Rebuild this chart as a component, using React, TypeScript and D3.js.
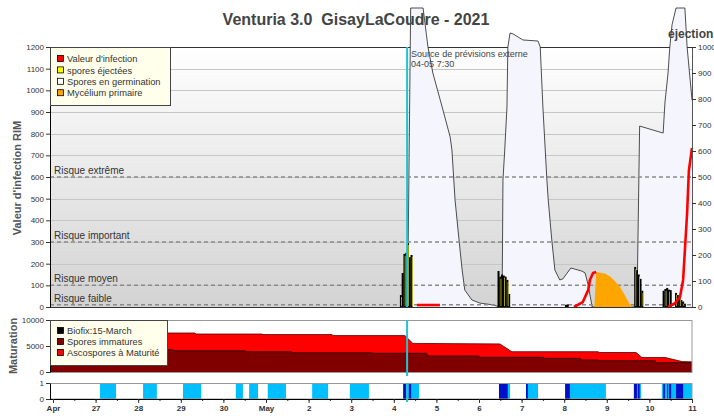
import React, { useEffect, useRef } from "react";
import * as d3 from "d3";

const chartTitle = "Venturia 3.0  GisayLaCoudre - 2021";
const dayLabels = ["Apr", "27", "28", "29", "30", "May", "2", "3", "4", "5", "6", "7", "8", "9", "10", "11"];

const riskLabels = ["Risque extrême", "Risque important", "Risque moyen", "Risque faible"];
const riskValues = [600, 300, 100, 10];

// spores en germination (right axis, éjection)
const germTimes = [
  "05-04 07:45", "05-04 09:30", "05-04 16:30", "05-04 19:15", "05-04 22:00", "05-05 03:15", "05-05 07:45", "05-05 08:45",
  "05-05 10:30", "05-05 12:45", "05-05 14:30", "05-05 16:00", "05-05 20:00", "05-06 00:30", "05-06 08:00", "05-06 11:45",
  "05-06 13:00", "05-06 13:30", "05-06 14:30", "05-06 15:45", "05-06 16:15", "05-06 17:30", "05-06 19:15", "05-07 00:45",
  "05-07 09:15", "05-07 10:30", "05-07 12:00", "05-07 14:15", "05-07 15:00", "05-07 17:00", "05-07 18:45", "05-07 21:30",
  "05-07 23:15", "05-08 03:45", "05-08 10:00", "05-08 11:45", "05-08 13:30", "05-08 15:45",
  "05-09 17:00", "05-09 18:30", "05-10 07:45", "05-10 08:45", "05-10 10:30", "05-10 11:30", "05-10 12:45", "05-10 15:00",
  "05-10 20:00", "05-10 21:15", "05-11 00:00",
];
const germValues = [
  0, 1150, 1150, 1000, 900, 769, 654, 604, 412, 258, 142, 65, 27, 15, 8, 0,
  0, 488, 604, 769, 1000, 1054, 1050, 1027, 1023, 1000, 769, 488, 412, 258, 142, 104, 108, 150, 138, 131, 85, 0,
  0, 696, 669, 785, 900, 1000, 1085, 1150, 1150, 1000, 796,
];

// valeur d'infection (left axis), one list per segment
const infectionTimes = [
  ["05-04 13:00", "05-05 02:00"],
  ["05-08 05:30", "05-08 10:30", "05-08 13:30", "05-08 14:30", "05-08 16:15", "05-08 18:00"],
  ["05-10 10:30", "05-10 14:30", "05-10 17:15", "05-10 19:00", "05-10 20:00", "05-10 21:15", "05-10 22:15", "05-11 00:00"],
];
const infectionValues = [
  [9, 9],
  [0, 23, 78, 125, 157, 162],
  [0, 18, 46, 125, 263, 434, 630, 734],
];

// mycélium primaire
const myceliumTimes = ["05-08 17:00", "05-08 18:00", "05-08 23:00", "05-09 02:00", "05-09 04:30", "05-09 07:30", "05-09 10:30", "05-09 12:30", "05-09 14:30"];
const myceliumValues = [0, 162, 155, 140, 120, 92, 50, 18, 0];

// spores éjectées, hourly values starting at each time
const ejectStarts = ["05-04 04:00", "05-06 11:00", "05-08 01:00", "05-09 16:00", "05-10 08:00"];
const ejectValues = [
  [55, 157, 245, 250, 295, 230, 240],
  [166, 140, 150, 145, 140, 125, 60],
  [10, 12],
  [185, 170, 150, 130, 75],
  [75, 83, 88, 80, 78, 0, 0, 65, 55, 42, 32, 25, 15],
];

// maturation
const totalTimes = ["04-25 22:00", "04-29 08:00", "04-29 08:30", "04-30 21:45", "04-30 22:15", "05-02 13:15", "05-02 13:45", "05-04 06:15", "05-04 10:45", "05-06 11:45", "05-06 18:30", "05-08 19:00", "05-08 20:00", "05-09 16:30", "05-09 19:45", "05-10 08:45", "05-10 18:30", "05-11 00:00"];
const totalValues = [7500, 7500, 7300, 7300, 7200, 7200, 7000, 7000, 5500, 5400, 3900, 3900, 3750, 3750, 2800, 2800, 2000, 1950];
const immatureTimes = ["04-25 22:00", "04-28 16:15", "04-28 21:15", "04-30 12:15", "04-30 12:45", "05-01 14:30", "05-01 15:00", "05-03 11:15", "05-03 11:45", "05-04 18:30", "05-04 19:15", "05-05 23:30", "05-06 00:30", "05-07 12:00", "05-07 13:00", "05-08 09:00", "05-08 10:00", "05-08 19:00", "05-08 19:30", "05-10 03:15", "05-10 04:00", "05-11 00:00"];
const immatureValues = [4400, 4400, 4100, 4100, 3900, 3900, 3700, 3700, 3600, 3600, 3080, 3080, 2830, 2830, 2630, 2630, 2310, 2310, 2170, 2170, 1800, 1800];

// humectation strip
const wetLight = [
  ["04-27 02:30", "04-27 11:30"], ["04-28 02:45", "04-28 10:30"], ["04-29 01:15", "04-29 11:30"], ["04-30 07:00", "04-30 11:00"],
  ["04-30 14:30", "04-30 19:30"], ["05-01 01:00", "05-01 11:15"], ["05-02 02:00", "05-02 11:00"], ["05-02 23:15", "05-03 10:00"],
  ["05-04 07:00", "05-04 14:15"], ["05-06 16:15", "05-06 17:30"], ["05-07 02:30", "05-07 09:15"], ["05-08 03:15", "05-08 23:30"],
  ["05-09 17:00", "05-09 19:15"], ["05-10 07:00", "05-11 00:00"],
];
const wetDark = [
  ["05-04 05:15", "05-04 07:00"], ["05-04 08:30", "05-04 09:45"], ["05-06 11:15", "05-06 16:15"], ["05-07 02:30", "05-07 03:30"],
  ["05-08 00:30", "05-08 03:15"], ["05-09 15:15", "05-09 17:00"], ["05-09 17:30", "05-09 18:30"], ["05-10 07:45", "05-10 08:45"],
  ["05-10 10:00", "05-10 10:30"], ["05-10 11:00", "05-10 12:15"], ["05-10 15:00", "05-10 19:00"],
];

const forecastTime = "05-04 07:30";

const legendLabels = ["Valeur d'infection", "spores éjectées", "Spores en germination", "Mycélium primaire"];
const legendColors = ["#ff0000", "#ffff00", "#ffffff", "#ffa500"];
const matLegendLabels = ["Biofix:15-March", "Spores immatures", "Ascospores à Maturité"];
const matLegendColors = ["#000000", "#800000", "#ff0000"];

const parseTime = d3.timeParse("%Y-%m-%d %H:%M");
const t = (s: string) => parseTime("2021-" + s) as Date;

const font = "'Liberation Sans', Arial, sans-serif";

export default function App() {
  const ref = useRef<SVGSVGElement>(null);

  useEffect(() => {
    const svg = d3.select(ref.current);
    svg.selectAll("*").remove();
    svg.attr("font-family", font);

    const left = 50, right = 692;
    const x = d3.scaleTime().domain([t("04-26 00:00"), t("05-11 00:00")]).range([53, 692]);
    const yL = d3.scaleLinear().domain([0, 1200]).range([307, 47]);
    const yR = d3.scaleLinear().domain([0, 1000]).range([307, 47]);
    const yM = d3.scaleLinear().domain([0, 10000]).range([372, 320]);
    const yS = d3.scaleLinear().domain([0, 1]).range([399, 383]);
    const fmt = d3.format("d");

    const defs = svg.append("defs");
    const grad = defs.append("linearGradient").attr("id", "bg").attr("x1", 0).attr("y1", 0).attr("x2", 0).attr("y2", 1);
    grad.append("stop").attr("offset", "0%").attr("stop-color", "#ffffff");
    grad.append("stop").attr("offset", "100%").attr("stop-color", "#d3d3d3");
    defs.append("clipPath").attr("id", "clipX").append("rect")
      .attr("x", left).attr("y", 0).attr("width", right - left).attr("height", 419);

    const styleAxis = (g: any, size = 8, bold = false) => {
      g.attr("font-family", font).attr("font-size", size);
      g.selectAll("text").attr("fill", "#333").attr("font-weight", bold ? "bold" : "normal");
      g.selectAll(".tick line").attr("stroke", "#333");
      g.select(".domain").attr("stroke", "#000");
    };

    // ---------- main panel ----------
    svg.append("rect").attr("x", left).attr("y", 47).attr("width", right - left).attr("height", 260).attr("fill", "url(#bg)");

    svg.append("g").selectAll("line").data(d3.range(100, 1200, 100)).join("line")
      .attr("x1", left).attr("x2", right)
      .attr("y1", (d) => Math.round(yL(d)) + 0.5).attr("y2", (d) => Math.round(yL(d)) + 0.5)
      .attr("stroke", "#c6c6c6");

    svg.append("line").attr("x1", left).attr("x2", right).attr("y1", 47.5).attr("y2", 47.5).attr("stroke", "#333");

    const germ = germTimes.map((s, i) => ({ t: t(s), v: germValues[i] }));
    svg.append("path").datum(germ)
      .attr("d", d3.area<any>().x((d) => x(d.t)).y0(yR(0)).y1((d) => yR(d.v)))
      .attr("fill", "#f5f6fd");
    svg.append("path").datum(germ)
      .attr("d", d3.line<any>().x((d) => x(d.t)).y((d) => yR(d.v)))
      .attr("fill", "none").attr("stroke", "#222").attr("stroke-width", 0.8);

    const risk = svg.append("g");
    riskValues.forEach((v, i) => {
      risk.append("line").attr("x1", left).attr("x2", right).attr("y1", yL(v)).attr("y2", yL(v))
        .attr("stroke", "#8a8a8a").attr("stroke-width", 1.5).attr("stroke-dasharray", "4,3");
      risk.append("text").attr("x", 54).attr("y", yL(v) - 3).attr("font-size", 10).attr("fill", "#333").text(riskLabels[i]);
    });

    const myc = myceliumTimes.map((s, i) => ({ t: t(s), v: myceliumValues[i] }));
    svg.append("path").datum(myc)
      .attr("d", d3.area<any>().x((d) => x(d.t)).y0(yL(0)).y1((d) => yL(d.v)))
      .attr("fill", "#ffa500");

    // ejected spores: dark bars with a thin yellow core
    const bars = ejectStarts.flatMap((s, g) => ejectValues[g].map((v, i) => ({ t: d3.timeHour.offset(t(s), i), v })));
    const barG = svg.append("g");
    barG.selectAll("rect.b").data(bars.filter((d) => d.v > 0)).join("rect").attr("class", "b")
      .attr("x", (d) => x(d.t) - 1).attr("y", (d) => yL(d.v))
      .attr("width", 2).attr("height", (d) => yL(0) - yL(d.v))
      .attr("fill", "#000");
    barG.selectAll("rect.y").data(bars.filter((d, i) => d.v > 0 && i % 2 === 0)).join("rect").attr("class", "y")
      .attr("x", (d) => x(d.t) + 0.3).attr("y", (d) => yL(d.v) + 2)
      .attr("width", 0.7).attr("height", (d) => Math.max(0, yL(0) - yL(d.v) - 3))
      .attr("fill", "#e6e000");

    const redLine = d3.line<any>().x((d) => x(d.t)).y((d) => yL(d.v));
    infectionTimes.forEach((seg, k) => {
      const pts = seg.map((s, i) => ({ t: t(s), v: infectionValues[k][i] }));
      svg.append("path").datum(pts).attr("d", redLine)
        .attr("fill", "none").attr("stroke", "#ff0000").attr("stroke-width", 2.6).attr("stroke-linejoin", "round");
    });

    const fx = x(t(forecastTime));
    svg.append("line").attr("x1", fx).attr("x2", fx).attr("y1", 47).attr("y2", 307).attr("stroke", "#1cc6d2").attr("stroke-width", 2);
    svg.append("text").attr("x", fx + 4).attr("y", 57).attr("font-size", 9).attr("fill", "#444").text("Source de prévisions externe");
    svg.append("text").attr("x", fx + 4).attr("y", 67).attr("font-size", 9).attr("fill", "#444").text("04-05 7:30");

    svg.append("line").attr("x1", left).attr("x2", right).attr("y1", 307.5).attr("y2", 307.5).attr("stroke", "#333");

    const axL = svg.append("g").attr("transform", `translate(${left},0)`)
      .call(d3.axisLeft(yL).tickValues(d3.range(0, 1201, 100)).tickFormat(fmt).tickSize(4).tickSizeOuter(0).tickPadding(2));
    styleAxis(axL);
    const axR = svg.append("g").attr("transform", `translate(${right},0)`)
      .call(d3.axisRight(yR).tickValues(d3.range(0, 1001, 100)).tickFormat(fmt).tickSize(4).tickSizeOuter(0).tickPadding(2));
    styleAxis(axR);
    axR.select(".domain").attr("stroke", "#555");

    // legend
    const leg = svg.append("g");
    leg.append("rect").attr("x", 50.5).attr("y", 47.5).attr("width", 120).attr("height", 58)
      .attr("fill", "#ffffec").attr("stroke", "#444");
    legendLabels.forEach((lab, i) => {
      const cy = 59 + i * 11.4;
      leg.append("rect").attr("x", 57.5).attr("y", cy - 3.5).attr("width", 6).attr("height", 6)
        .attr("fill", legendColors[i]).attr("stroke", "#000").attr("stroke-width", 0.8);
      leg.append("text").attr("x", 67).attr("y", cy + 3.2).attr("font-size", 9.3).attr("fill", "#333").text(lab);
    });

    // titles
    svg.append("text").attr("x", 356).attr("y", 25).attr("text-anchor", "middle").style("white-space", "pre")
      .attr("font-size", 16).attr("font-weight", "bold").attr("fill", "#444").text(chartTitle);
    svg.append("text").attr("x", 668).attr("y", 38).attr("font-size", 12).attr("font-weight", "bold").attr("fill", "#444").text("éjection");
    svg.append("text").attr("transform", "translate(21,178) rotate(-90)").attr("text-anchor", "middle")
      .attr("font-size", 11).attr("font-weight", "bold").attr("fill", "#555").text("Valeur d'infection RIM");

    // ---------- maturation panel ----------
    const mat = svg.append("g").attr("clip-path", "url(#clipX)");
    const total = totalTimes.map((s, i) => ({ t: t(s), v: totalValues[i] }));
    const immature = immatureTimes.map((s, i) => ({ t: t(s), v: immatureValues[i] }));
    const mArea = d3.area<any>().x((d) => x(d.t)).y0(yM(0)).y1((d) => yM(d.v));
    const mLine = d3.line<any>().x((d) => x(d.t)).y((d) => yM(d.v));
    mat.append("path").datum(total).attr("d", mArea).attr("fill", "#ff0000");
    mat.append("path").datum(total).attr("d", mLine).attr("fill", "none").attr("stroke", "#500000").attr("stroke-width", 0.8);
    mat.append("path").datum(immature).attr("d", mArea).attr("fill", "#800000");
    mat.append("path").datum(immature).attr("d", mLine).attr("fill", "none").attr("stroke", "#200000").attr("stroke-width", 0.8);

    svg.append("rect").attr("x", left + 0.5).attr("y", 320.5).attr("width", right - left - 0.5).attr("height", 52)
      .attr("fill", "none").attr("stroke", "#999");
    const axM = svg.append("g").attr("transform", `translate(${left},0)`)
      .call(d3.axisLeft(yM).tickValues([0, 5000, 10000]).tickFormat(fmt).tickSize(4).tickSizeOuter(0).tickPadding(2));
    styleAxis(axM);
    svg.append("line").attr("x1", fx).attr("x2", fx).attr("y1", 320).attr("y2", 376).attr("stroke", "#1cc6d2").attr("stroke-width", 2);

    const leg2 = svg.append("g");
    leg2.append("rect").attr("x", 50.5).attr("y", 320.5).attr("width", 117).attr("height", 45)
      .attr("fill", "#ffffec").attr("stroke", "#444");
    matLegendLabels.forEach((lab, i) => {
      const cy = 331 + i * 11;
      leg2.append("rect").attr("x", 57.5).attr("y", cy - 3.5).attr("width", 6).attr("height", 6)
        .attr("fill", matLegendColors[i]).attr("stroke", "#000").attr("stroke-width", 0.8);
      leg2.append("text").attr("x", 67).attr("y", cy + 3.2).attr("font-size", 9.3).attr("fill", "#333").text(lab);
    });
    svg.append("text").attr("transform", "translate(17,346) rotate(-90)").attr("text-anchor", "middle")
      .attr("font-size", 11).attr("font-weight", "bold").attr("fill", "#555").text("Maturation");

    // ---------- wetness strip ----------
    const strip = svg.append("g").attr("clip-path", "url(#clipX)");
    strip.selectAll("rect.l").data(wetLight).join("rect").attr("class", "l")
      .attr("x", (d) => x(t(d[0]))).attr("width", (d) => x(t(d[1])) - x(t(d[0])))
      .attr("y", yS(1)).attr("height", yS(0) - yS(1)).attr("fill", "#00bfff");
    strip.selectAll("rect.d").data(wetDark).join("rect").attr("class", "d")
      .attr("x", (d) => x(t(d[0]))).attr("width", (d) => x(t(d[1])) - x(t(d[0])))
      .attr("y", yS(1)).attr("height", yS(0) - yS(1)).attr("fill", "#0010c8");
    svg.append("rect").attr("x", left + 0.5).attr("y", 383.5).attr("width", right - left - 0.5).attr("height", 15.5)
      .attr("fill", "none").attr("stroke", "#999");
    const axS = svg.append("g").attr("transform", `translate(${left},0)`)
      .call(d3.axisLeft(yS).tickValues([0, 1]).tickFormat(fmt).tickSize(4).tickSizeOuter(0).tickPadding(2));
    styleAxis(axS);

    const days = dayLabels.map((_, i) => d3.timeDay.offset(t("04-26 00:00"), i));
    const axMinor = svg.append("g").attr("transform", "translate(0,399)")
      .call(d3.axisBottom(x).ticks(d3.timeHour.every(12)).tickSize(2).tickFormat(() => ""));
    axMinor.select(".domain").remove();
    axMinor.selectAll("line").attr("stroke", "#333");
    const axX = svg.append("g").attr("transform", "translate(0,399)")
      .call(d3.axisBottom(x).tickValues(days).tickFormat((_, i) => dayLabels[i]).tickSize(4).tickSizeOuter(0).tickPadding(2));
    styleAxis(axX, 8, true);
    axX.select(".domain").attr("d", `M${left},0.5H${right}`);

    svg.append("line").attr("x1", fx).attr("x2", fx).attr("y1", 383).attr("y2", 402).attr("stroke", "#1cc6d2").attr("stroke-width", 2);
  }, []);

  return <svg ref={ref} width={714} height={419} style={{ position: "absolute", left: 0, top: 0, background: "#fff" }} />;
}
